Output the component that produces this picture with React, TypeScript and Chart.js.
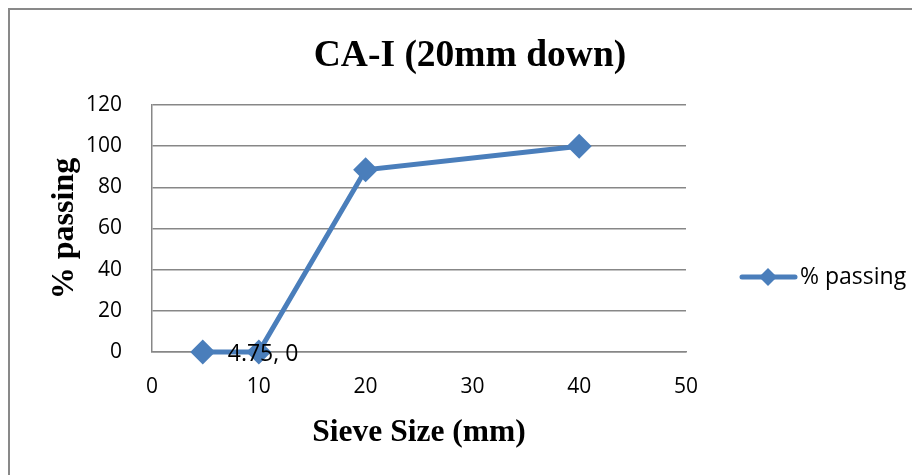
import React, { useEffect, useRef } from "react";
import { Chart, registerables } from "chart.js";

Chart.register(...registerables);

// Sieve analysis for coarse aggregate CA-I (20mm down)
const sieveSizes = [4.75, 10, 20, 40];
const percentPassing = [0, 0, 88.5, 100];
const seriesName = "% passing";
const chartTitle = "CA-I (20mm down)";
const xAxisTitle = "Sieve Size (mm)";
const yAxisTitle = "% passing";

const BLUE = "#4A7EBB";
const GRID = "#878787";
const SERIF = "'Liberation Serif', 'Times New Roman', serif";
const SANS = "'Open Sans', 'Noto Sans', sans-serif";

const decorations = {
  id: "decorations",
  afterDraw(chart: any) {
    const { ctx, chartArea, scales } = chart;
    ctx.save();
    ctx.fillStyle = "#000";

    // main title
    ctx.font = `bold 37.5px ${SERIF}`;
    ctx.textAlign = "center";
    ctx.textBaseline = "middle";
    ctx.fillText(chartTitle, 460, 46);

    // x axis title
    ctx.font = `bold 31.5px ${SERIF}`;
    ctx.fillText(xAxisTitle, (chartArea.left + chartArea.right) / 2, 423);

    // y axis title
    ctx.save();
    ctx.translate(55, (chartArea.top + chartArea.bottom) / 2);
    ctx.rotate(-Math.PI / 2);
    ctx.font = `bold 32px ${SERIF}`;
    ctx.fillText(yAxisTitle, 0, 0);
    ctx.restore();

    // data label on the first point
    const px = scales.x.getPixelForValue(sieveSizes[0]);
    const py = scales.y.getPixelForValue(percentPassing[0]);
    ctx.font = `23px ${SANS}`;
    ctx.textAlign = "left";
    ctx.fillText(`${sieveSizes[0]}, ${percentPassing[0]}`, px + 25, py + 2);

    // legend
    const ly = 267;
    ctx.strokeStyle = BLUE;
    ctx.lineWidth = 5;
    ctx.lineCap = "round";
    ctx.beginPath();
    ctx.moveTo(732, ly);
    ctx.lineTo(785, ly);
    ctx.stroke();
    ctx.fillStyle = BLUE;
    ctx.beginPath();
    const r = 9;
    const cx = 758;
    ctx.moveTo(cx, ly - r);
    ctx.lineTo(cx + r, ly);
    ctx.lineTo(cx, ly + r);
    ctx.lineTo(cx - r, ly);
    ctx.closePath();
    ctx.fill();
    ctx.fillStyle = "#000";
    ctx.font = `23px ${SANS}`;
    ctx.fillText(seriesName, 790, ly);

    ctx.restore();
  },
};

export default function App() {
  const canvasRef = useRef<HTMLCanvasElement | null>(null);

  useEffect(() => {
    const canvas = canvasRef.current;
    if (!canvas) return;
    const chart = new Chart(canvas, {
      type: "scatter",
      data: {
        datasets: [
          {
            label: seriesName,
            data: sieveSizes.map((x, i) => ({ x, y: percentPassing[i] })),
            showLine: true,
            clip: false,
            borderColor: BLUE,
            backgroundColor: BLUE,
            borderWidth: 5,
            pointStyle: "rectRot",
            pointRadius: 12.5,
            pointBorderWidth: 0,
            pointBackgroundColor: BLUE,
            tension: 0,
          },
        ],
      },
      options: {
        responsive: false,
        animation: false,
        layout: { padding: { left: 0, top: 95, right: 234, bottom: 0 } },
        plugins: {
          legend: { display: false },
          title: { display: false },
          tooltip: { enabled: false },
        },
        scales: {
          x: {
            type: "linear",
            min: 0,
            max: 50,
            ticks: {
              stepSize: 10,
              padding: 22,
              color: "#000",
              font: { family: SANS, size: 21 },
            },
            grid: { color: "rgba(0,0,0,0)", drawTicks: false },
            border: { display: true, color: GRID, width: 1.5 },
            afterFit: (s: any) => {
              s.height = 123;
            },
          },
          y: {
            min: 0,
            max: 120,
            ticks: {
              stepSize: 20,
              padding: 30,
              color: "#000",
              font: { family: SANS, size: 21 },
            },
            grid: { color: GRID, lineWidth: 1.5, drawTicks: false },
            border: { display: true, color: GRID, width: 1.5 },
            afterFit: (s: any) => {
              s.width = 142;
            },
          },
        },
      },
      plugins: [decorations],
    });
    return () => chart.destroy();
  }, []);

  return (
    <div
      style={{
        width: 912,
        height: 467,
        boxSizing: "border-box",
        borderTop: "2px solid #898989",
        borderLeft: "2px solid #898989",
        background: "#fff",
        overflow: "hidden",
      }}
    >
      <canvas ref={canvasRef} width={910} height={465} style={{ display: "block" }} />
    </div>
  );
}
